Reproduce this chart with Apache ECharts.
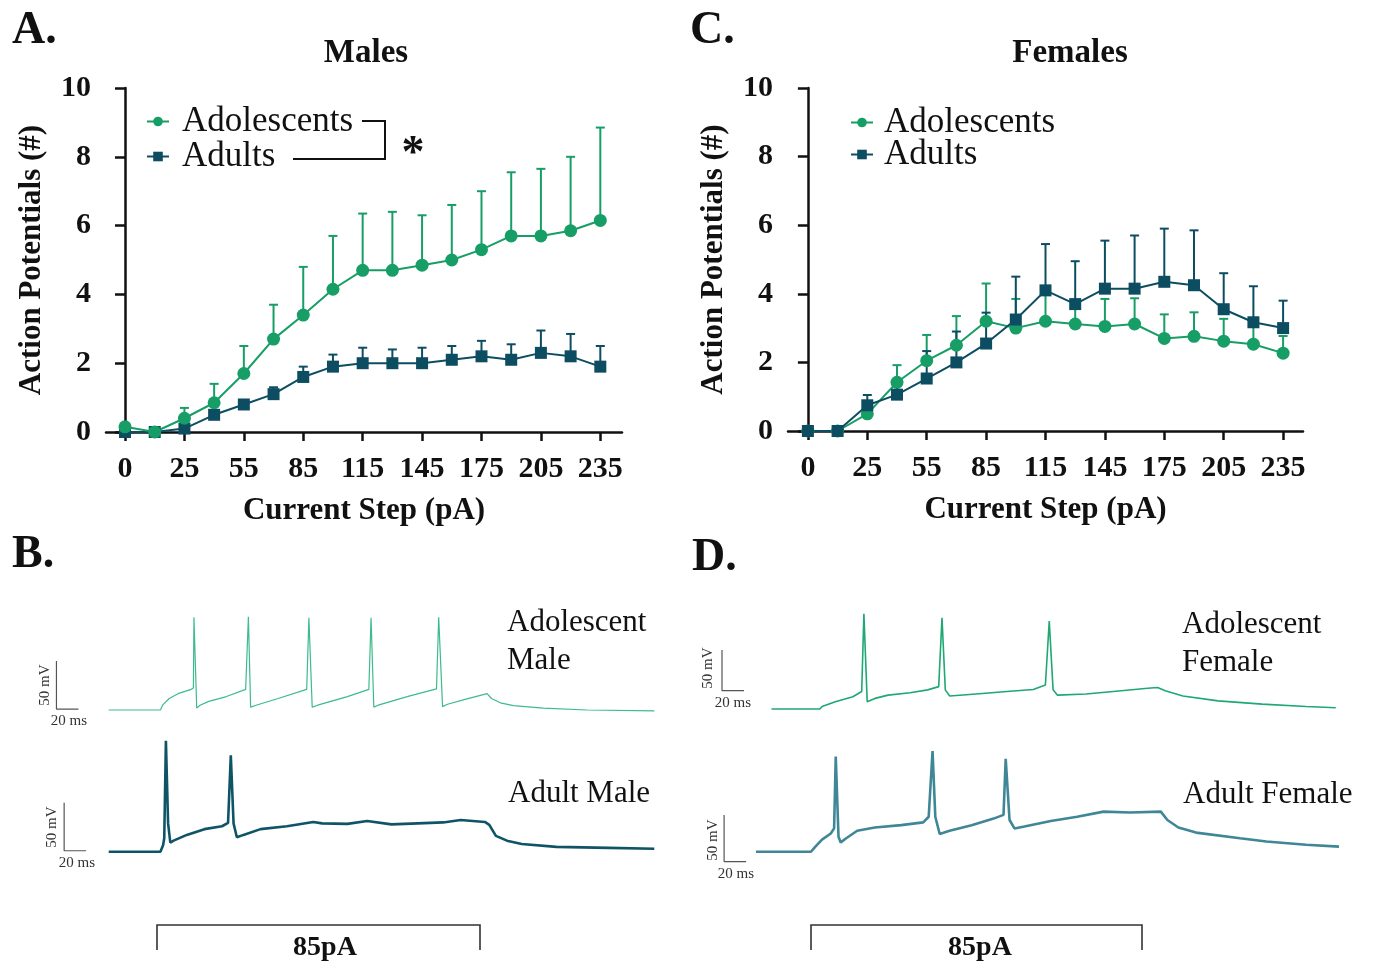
<!DOCTYPE html>
<html>
<head>
<meta charset="utf-8">
<script src="https://cdn.jsdelivr.net/npm/echarts@6/dist/echarts.min.js"></script>
<style>
  body { margin: 0; background: #fff; }
  #chart { width: 1373px; height: 965px; }
</style>
</head>
<body>
<div id="chart"></div>
<script>
// current steps (pA); only every other one is labelled on the axis
const steps = [0, 10, 25, 40, 55, 70, 85, 100, 115, 130, 145, 160, 175, 190, 205, 220, 235]

// males
const maleAdolMean = [0.15, 0, 0.4, 0.85, 1.7, 2.7, 3.4, 4.15, 4.7, 4.7, 4.85, 5.0, 5.3, 5.7, 5.7, 5.85, 6.15]
const maleAdolSem = [0, 0, 0.3, 0.55, 0.8, 1.0, 1.4, 1.55, 1.65, 1.7, 1.45, 1.6, 1.7, 1.85, 1.95, 2.15, 2.7]
const maleAdultMean = [0, 0, 0.1, 0.5, 0.8, 1.1, 1.6, 1.9, 2.0, 2.0, 2.0, 2.1, 2.2, 2.1, 2.3, 2.2, 1.9]
const maleAdultSem = [0, 0, 0, 0.1, 0.1, 0.2, 0.3, 0.35, 0.45, 0.4, 0.45, 0.4, 0.45, 0.45, 0.65, 0.65, 0.6]

// females
const femAdolMean = [0, 0, 0.5, 1.42, 2.05, 2.5, 3.2, 3.0, 3.2, 3.12, 3.05, 3.12, 2.7, 2.76, 2.62, 2.53, 2.27]
const femAdolSem = [0, 0, 0.2, 0.5, 0.75, 0.85, 1.1, 0.85, 0.85, 0.5, 0.8, 0.75, 0.7, 0.7, 0.65, 0.6, 0.5]
const femAdultMean = [0, 0, 0.75, 1.06, 1.53, 2.0, 2.55, 3.25, 4.1, 3.7, 4.15, 4.15, 4.35, 4.25, 3.55, 3.17, 3.0]
const femAdultSem = [0, 0, 0.3, 0.3, 0.8, 0.9, 0.9, 1.25, 1.35, 1.25, 1.4, 1.55, 1.55, 1.6, 1.05, 1.05, 0.8]

const yTicks = [0, 2, 4, 6, 8, 10]

// example recordings at 85 pA, [time ms, membrane potential mV]
const adolMaleTrace = [[0, -70], [47, -70], [49, -65], [55, -58], [63, -53], [75, -48.5], [77, -47], [77.5, 26.5], [80, -68], [83, -65], [91, -61], [107, -56], [124.5, -48.5], [127, 27], [129, -67], [134, -65], [154, -58], [180, -48.5], [182, 26], [185, -67], [190, -65], [217, -56], [236.5, -48.5], [238.5, 26], [241, -67], [245, -65], [273, -55.5], [298, -48], [300, 26.5], [303.5, -66.5], [308, -64], [324, -59], [344, -53], [348, -58], [356, -62.5], [368, -65.5], [395, -68], [435, -70], [496, -71]]
const adultMaleTrace = [[0, -70], [47, -70], [49.5, -63], [50.5, -56], [52, 45.5], [54, -40.5], [56, -60.5], [59, -58.5], [71, -52.5], [87, -46.5], [103, -43.5], [108.5, -40], [111, 30.5], [113.5, -40.5], [116.5, -55], [122.5, -52.5], [138, -46.5], [162, -43.5], [186, -39], [194, -40.5], [217, -41], [235, -38], [257, -41.5], [281, -40.5], [304, -39.5], [320, -37], [342, -39], [346, -42], [352, -53.5], [362, -58.5], [375.5, -62], [407, -65], [454.5, -66], [496, -67]]
const adolFemaleTrace = [[0, -70], [44, -70], [46, -67], [58, -61], [74, -55], [82, -48.5], [84, 47], [87, -61], [88.5, -62.5], [94, -57], [106, -53], [126, -50], [142, -46.5], [152, -42.5], [155, 42], [158, -46.5], [162, -54], [186, -51.5], [214, -48.5], [238, -46], [249, -40.5], [252.5, 38], [256, -46.5], [260, -53], [286, -51.5], [318, -47.5], [342, -44.5], [351, -43.5], [358, -47.5], [374, -54], [406, -60], [446, -64], [486, -67], [513, -68.5]]
const adultFemaleTrace = [[0, -70], [50, -70], [54, -64.5], [60, -57], [68, -50.5], [71, -45], [72.5, 32], [75, -54], [77, -60], [82, -55.5], [92, -47.5], [108, -44], [132, -41.5], [152, -38.5], [157, -32.5], [160.5, 38], [163, -32.5], [167, -51], [176, -47.5], [196, -41.5], [216, -34.5], [225, -30.5], [227, 29.5], [230.5, -36], [235, -45], [244, -43], [268, -37], [292, -32.5], [316, -27], [340, -28], [368, -27], [374, -36], [384, -44], [400, -49.5], [440, -55.5], [464, -59], [500, -62.5], [530, -64.5]]

// scale bars: 50 mV / 20 ms, corner point of each
const SCALE_MV = 50
const SCALE_MS = 20
const scaleCorners = [[-47.5, -69], [-40.5, -69], [-45, -47.5], [-29, -80.5]]

const GREEN = '#179e66'
const TEAL = '#0c4d61'
const SERIF = '"Liberation Serif", "DejaVu Serif", serif'

const chart = echarts.init(document.getElementById('chart'))

const labelIdx = steps.map((s, i) => i).filter(i => i % 2 === 0)

function stepAxis (gridIndex, min, max) {
  return {
    type: 'value',
    gridIndex,
    min,
    max,
    axisLine: { show: true, onZero: false, lineStyle: { color: '#111', width: 2.5 } },
    axisTick: { show: true, customValues: labelIdx, length: 9, lineStyle: { color: '#111', width: 2.5 } },
    axisLabel: {
      customValues: labelIdx,
      formatter: v => String(steps[Math.round(v)]),
      fontFamily: SERIF, fontWeight: 'bold', fontSize: 30, color: '#111', margin: 22
    },
    splitLine: { show: false },
    name: 'Current Step (pA)',
    nameLocation: 'middle',
    nameGap: 63,
    nameTextStyle: { fontFamily: SERIF, fontWeight: 'bold', fontSize: 31, color: '#111' }
  }
}

function apAxis (gridIndex) {
  return {
    type: 'value',
    gridIndex,
    min: yTicks[0],
    max: yTicks[yTicks.length - 1],
    interval: 2,
    axisLine: { show: true, lineStyle: { color: '#111', width: 2.5 } },
    axisTick: { show: true, length: 10, lineStyle: { color: '#111', width: 2.5 } },
    axisLabel: { fontFamily: SERIF, fontWeight: 'bold', fontSize: 30, color: '#111', margin: 15 },
    splitLine: { show: false },
    name: 'Action Potentials (#)',
    nameLocation: 'middle',
    nameGap: 59,
    nameTextStyle: { fontFamily: SERIF, fontWeight: 'bold', fontSize: 31, color: '#111' }
  }
}

function hiddenAxis (gridIndex, min, max) {
  return { type: 'value', gridIndex, min, max, show: false }
}

function errorBars (name, xi, yi, mean, sem, color) {
  return {
    type: 'custom',
    name: name + ' SEM',
    xAxisIndex: xi,
    yAxisIndex: yi,
    encode: { x: 0, y: 1 },
    data: mean.map((m, i) => [i, m, sem[i]]),
    renderItem: function (params, api) {
      const e = api.value(2)
      if (!e) return null
      const p0 = api.coord([api.value(0), api.value(1)])
      const p1 = api.coord([api.value(0), api.value(1) + e])
      const st = { stroke: color, lineWidth: 2 }
      return {
        type: 'group',
        children: [
          { type: 'line', shape: { x1: p0[0], y1: p0[1], x2: p1[0], y2: p1[1] }, style: st },
          { type: 'line', shape: { x1: p1[0] - 4.5, y1: p1[1], x2: p1[0] + 4.5, y2: p1[1] }, style: st }
        ]
      }
    }
  }
}

function meanLine (name, xi, yi, mean, color, symbol) {
  return {
    type: 'line',
    name,
    xAxisIndex: xi,
    yAxisIndex: yi,
    data: mean.map((m, i) => [i, m]),
    symbol,
    symbolSize: symbol === 'circle' ? 13 : 12,
    showSymbol: true,
    itemStyle: { color },
    lineStyle: { color, width: 2 }
  }
}

function traceLine (xi, data, color, width) {
  return {
    type: 'line',
    xAxisIndex: xi,
    yAxisIndex: xi,
    data,
    symbol: 'none',
    lineStyle: { color, width },
    silent: true
  }
}

function scaleBar (xi, corner) {
  const t = corner[0]
  const v = corner[1]
  return {
    type: 'line',
    xAxisIndex: xi,
    yAxisIndex: xi,
    data: [[t, v + SCALE_MV], [t, v], [t + SCALE_MS, v]],
    symbol: 'none',
    lineStyle: { color: '#555', width: 1.2 },
    silent: true
  }
}

function txt (x, y, text, size, opts) {
  return Object.assign({
    type: 'text',
    x,
    y,
    style: Object.assign({
      text,
      font: (opts && opts.bold ? 'bold ' : '') + size + 'px ' + SERIF,
      fill: '#111',
      textAlign: 'left',
      textVerticalAlign: 'middle'
    }, opts && opts.style)
  }, opts && opts.el)
}

const rotated = { el: { rotation: Math.PI / 2 }, style: { textAlign: 'center', fill: '#333' } }
const centered = { style: { textAlign: 'center', fill: '#333' } }

const option = {
  animation: false,
  backgroundColor: '#fff',
  grid: [
    { left: 106, top: 88, width: 516, height: 344 },
    { left: 788, top: 88, width: 515, height: 343 },
    { left: 42.7, top: 614, width: 616, height: 105.6 },
    { left: 42.7, top: 736.5, width: 616, height: 124.8 },
    { left: 705.5, top: 611.4, width: 638, height: 105.7 },
    { left: 690, top: 749.1, width: 660, height: 121.3 }
  ],
  xAxis: [
    stepAxis(0, -0.64, 16.73),
    stepAxis(1, -0.67, 16.67),
    hiddenAxis(2, -60, 500),
    hiddenAxis(3, -60, 500),
    hiddenAxis(4, -60, 520),
    hiddenAxis(5, -60, 540)
  ],
  yAxis: [
    apAxis(0),
    apAxis(1),
    hiddenAxis(2, -80, 30),
    hiddenAxis(3, -80, 50),
    hiddenAxis(4, -80, 50),
    hiddenAxis(5, -90, 40)
  ],
  legend: [
    {
      left: 146, top: 104, orient: 'vertical', padding: 0, itemGap: 0,
      itemWidth: 22, itemHeight: 12,
      data: ['Adolescents', 'Adults'],
      textStyle: { fontFamily: SERIF, fontSize: 35, lineHeight: 35, color: '#111', padding: [0, 0, 0, 8] }
    },
    {
      left: 850, top: 105, orient: 'vertical', padding: 0, itemGap: -3,
      itemWidth: 22, itemHeight: 12,
      data: ['Adolescents', 'Adults'],
      textStyle: { fontFamily: SERIF, fontSize: 35, lineHeight: 32, color: '#111', padding: [0, 0, 0, 6] }
    }
  ],
  series: [
    errorBars('Adults', 0, 0, maleAdultMean, maleAdultSem, TEAL),
    meanLine('Adults', 0, 0, maleAdultMean, TEAL, 'rect'),
    errorBars('Adolescents', 0, 0, maleAdolMean, maleAdolSem, GREEN),
    meanLine('Adolescents', 0, 0, maleAdolMean, GREEN, 'circle'),

    errorBars('Adolescents', 1, 1, femAdolMean, femAdolSem, GREEN),
    meanLine('Adolescents', 1, 1, femAdolMean, GREEN, 'circle'),
    errorBars('Adults', 1, 1, femAdultMean, femAdultSem, TEAL),
    meanLine('Adults', 1, 1, femAdultMean, TEAL, 'rect'),

    traceLine(2, adolMaleTrace, '#3dbb8c', 1.2),
    traceLine(3, adultMaleTrace, '#0f5466', 2.6),
    traceLine(4, adolFemaleTrace, '#1ea873', 1.6),
    traceLine(5, adultFemaleTrace, '#3f8696', 2.6),
    scaleBar(2, scaleCorners[0]),
    scaleBar(3, scaleCorners[1]),
    scaleBar(4, scaleCorners[2]),
    scaleBar(5, scaleCorners[3])
  ],
  graphic: [
    txt(12, 31, 'A.', 46, { bold: true }),
    txt(690, 31, 'C.', 46, { bold: true }),
    txt(12, 555, 'B.', 46, { bold: true }),
    txt(692, 558, 'D.', 46, { bold: true }),
    txt(366, 53, 'Males', 33, { bold: true, style: { textAlign: 'center' } }),
    txt(1070, 53, 'Females', 33, { bold: true, style: { textAlign: 'center' } }),
    {
      type: 'polyline',
      shape: { points: [[362, 121], [385, 121], [385, 159], [293, 159]] },
      style: { stroke: '#111', lineWidth: 2, fill: null }
    },
    txt(413, 155, '*', 46, { bold: true, style: { textAlign: 'center' } }),

    txt(507, 623, 'Adolescent', 31),
    txt(507, 661, 'Male', 31),
    txt(508, 794, 'Adult Male', 31),
    txt(1182, 625, 'Adolescent', 31),
    txt(1182, 663, 'Female', 31),
    txt(1183, 795, 'Adult Female', 31),

    txt(45, 685, '50 mV', 15, rotated),
    txt(69, 721, '20 ms', 15, centered),
    txt(52, 827, '50 mV', 15, rotated),
    txt(77, 863, '20 ms', 15, centered),
    txt(708, 668, '50 mV', 15, rotated),
    txt(733, 703, '20 ms', 15, centered),
    txt(713, 840, '50 mV', 15, rotated),
    txt(736, 874, '20 ms', 15, centered),

    {
      type: 'polyline',
      shape: { points: [[157, 950], [157, 925], [480, 925], [480, 950]] },
      style: { stroke: '#333', lineWidth: 1.6, fill: null }
    },
    txt(325, 948, '85pA', 28, { bold: true, style: { textAlign: 'center' } }),
    {
      type: 'polyline',
      shape: { points: [[811, 950], [811, 925], [1142, 925], [1142, 950]] },
      style: { stroke: '#333', lineWidth: 1.6, fill: null }
    },
    txt(980, 948, '85pA', 28, { bold: true, style: { textAlign: 'center' } })
  ]
}

chart.setOption(option)
</script>
</body>
</html>
